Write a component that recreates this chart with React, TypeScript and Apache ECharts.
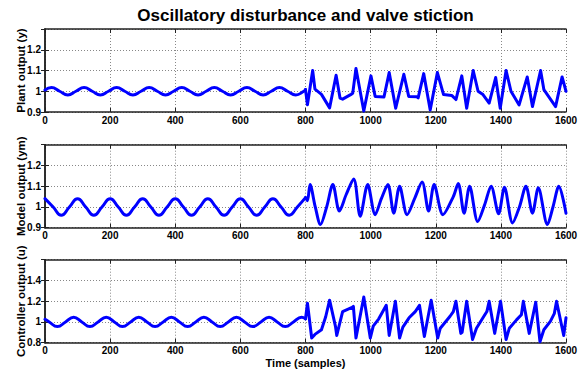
import React, { useEffect, useRef } from "react";
import * as echarts from "echarts";

const titleText = "Oscillatory disturbance and valve stiction";
const panelNames = ["Plant output (y)", "Model output (ym)", "Controller output (u)"];
const xAxisName = "Time (samples)";
const xRange = [0, 1600];
const xStep = 200;
const yRanges = [
  [0.9, 1.3, 0.1],
  [0.9, 1.3, 0.1],
  [0.8, 1.6, 0.2],
];

// Plant output (y)
const plantCalm: [number, number][] = [
  [0, 1.006], [20, 1.018], [45, 1.0], [70, 0.982], [95, 1.0], [120, 1.018], [145, 1.0], [170, 0.982],
  [195, 1.0], [220, 1.018], [245, 1.0], [270, 0.982], [295, 1.0], [320, 1.018], [345, 1.0], [370, 0.982],
  [395, 1.0], [420, 1.018], [445, 1.0], [470, 0.982], [495, 1.0], [520, 1.018], [545, 1.0], [570, 0.982],
  [595, 1.0], [620, 1.018], [645, 1.0], [670, 0.982], [695, 1.0], [720, 1.018], [745, 1.0], [770, 0.982],
  [795, 1.0], [800, 1.008],
];
const plantStiction: [number, number][] = [
  [800, 1.008], [806, 0.935], [822, 1.1], [829, 1.01], [849, 0.985], [874, 0.92], [894, 1.077],
  [906, 0.967], [914, 0.962], [940, 0.985], [945, 0.99], [955, 1.11], [979, 0.905], [1001, 1.074],
  [1014, 0.975], [1041, 0.972], [1057, 1.09], [1077, 0.918], [1102, 1.082], [1117, 0.975],
  [1142, 0.973], [1146, 0.968], [1163, 1.085], [1183, 0.91], [1205, 1.09], [1224, 0.984],
  [1249, 0.98], [1262, 0.96], [1280, 1.074], [1295, 0.918], [1315, 1.1], [1330, 1.0], [1345, 0.984],
  [1364, 0.943], [1384, 1.066], [1398, 0.918], [1416, 1.1], [1431, 1.0], [1456, 0.934],
  [1481, 1.069], [1497, 0.926], [1522, 1.1], [1532, 1.008], [1568, 0.926], [1588, 1.069], [1600, 1.0],
];

// Model output (ym)
const modelCalm: [number, number][] = [
  [0, 1.04], [25, 1.0], [50, 0.96], [75, 1.0], [100, 1.04], [125, 1.0], [150, 0.96], [175, 1.0],
  [200, 1.04], [225, 1.0], [250, 0.96], [275, 1.0], [300, 1.04], [325, 1.0], [350, 0.96], [375, 1.0],
  [400, 1.04], [425, 1.0], [450, 0.96], [475, 1.0], [500, 1.04], [525, 1.0], [550, 0.96], [575, 1.0],
  [600, 1.04], [625, 1.0], [650, 0.96], [675, 1.0], [700, 1.04], [725, 1.0], [750, 0.96], [775, 1.0],
  [800, 1.045],
];
const modelStiction: [number, number][] = [
  [800, 1.045], [806, 1.03], [814, 1.108], [830, 1.0], [846, 0.915], [865, 1.0], [884, 1.108],
  [904, 0.98], [925, 1.06], [948, 1.135], [968, 0.955], [991, 1.108], [1014, 0.963], [1033, 1.04],
  [1053, 1.108], [1071, 0.97], [1089, 1.1], [1112, 0.963], [1135, 1.04], [1158, 1.12], [1178, 0.98],
  [1195, 1.108], [1222, 0.963], [1254, 1.05], [1269, 1.113], [1287, 0.97], [1304, 1.1], [1329, 0.93],
  [1350, 1.01], [1370, 1.1], [1393, 0.967], [1411, 1.095], [1436, 0.923], [1457, 1.0], [1477, 1.1],
  [1497, 0.97], [1515, 1.092], [1543, 0.915], [1560, 1.0], [1578, 1.1], [1600, 0.97],
];

// Controller output (u)
const controllerCalm: [number, number][] = [
  [0, 1.025], [13, 1.0], [38, 0.955], [63, 1.0], [88, 1.045], [113, 1.0], [138, 0.955], [163, 1.0],
  [188, 1.045], [213, 1.0], [238, 0.955], [263, 1.0], [288, 1.045], [313, 1.0], [338, 0.955], [363, 1.0],
  [388, 1.045], [413, 1.0], [438, 0.955], [463, 1.0], [488, 1.045], [513, 1.0], [538, 0.955], [563, 1.0],
  [588, 1.045], [613, 1.0], [638, 0.955], [663, 1.0], [688, 1.045], [713, 1.0], [738, 0.955], [763, 1.0],
  [788, 1.045], [800, 1.03],
];
const controllerStiction: [number, number][] = [
  [800, 1.03], [806, 1.18], [819, 0.845], [829, 0.88], [849, 0.925], [862, 1.05], [874, 1.21],
  [892, 0.958], [896, 0.87], [914, 1.1], [943, 1.14], [947, 1.15], [955, 0.845], [979, 1.24],
  [999, 0.845], [1008, 0.96], [1025, 1.03], [1048, 1.16], [1057, 0.87], [1076, 1.2], [1089, 0.845],
  [1099, 0.95], [1118, 1.04], [1137, 1.1], [1150, 1.16], [1165, 0.86], [1186, 1.21], [1206, 0.845],
  [1214, 0.94], [1244, 1.055], [1254, 1.1], [1262, 1.2], [1277, 0.89], [1281, 0.9], [1295, 1.2],
  [1313, 0.83], [1325, 0.94], [1345, 1.04], [1357, 1.1], [1364, 1.2], [1381, 0.89], [1399, 1.2],
  [1416, 0.83], [1426, 0.94], [1448, 1.02], [1463, 1.07], [1469, 1.2], [1487, 0.89], [1507, 1.19],
  [1520, 0.81], [1532, 0.925], [1552, 1.006], [1564, 1.08], [1571, 1.2], [1593, 0.87], [1600, 1.04],
];

const FONT = "'Liberation Sans', Arial, Helvetica, sans-serif";
const BLUE = "#0000ff";
const AXIS_COLOR = "#222";

export default function App() {
  const ref = useRef<HTMLDivElement>(null);
  useEffect(() => {
    if (!ref.current) return;
    const chart = echarts.init(ref.current, undefined, { renderer: "svg" });
    const gridTops = [29, 144.7, 259.7];
    const grid = gridTops.map((t) => ({ left: 45, width: 521, top: t, height: 83 }));
    const xAxis: any[] = [];
    const yAxis: any[] = [];
    gridTops.forEach((_, i) => {
      xAxis.push({
        type: "value",
        gridIndex: i,
        min: xRange[0],
        max: xRange[1],
        interval: xStep,
        position: "bottom",
        name: i === 2 ? xAxisName : "",
        nameLocation: "middle",
        nameGap: 15,
        nameMoveOverlap: false,
        nameTextStyle: { fontFamily: FONT, fontWeight: "bold", fontSize: 11, color: "#000", verticalAlign: "top" },
        axisLine: { show: true, lineStyle: { color: AXIS_COLOR, width: 1.5 } },
        axisTick: { show: true, inside: true, length: 4, lineStyle: { color: AXIS_COLOR } },
        axisLabel: {
          show: true,
          margin: 3,
          formatter: (v: number) => String(v),
          fontFamily: FONT,
          fontWeight: "bold",
          fontSize: 10,
          color: "#000",
        },
        splitLine: { show: true, lineStyle: { color: "#888", type: [1, 2], width: 1 } },
      });
      xAxis.push({
        type: "value",
        gridIndex: i,
        min: xRange[0],
        max: xRange[1],
        interval: xStep,
        position: "top",
        axisLine: { show: true, lineStyle: { color: AXIS_COLOR, width: 1.5 } },
        axisTick: { show: true, inside: true, length: 4, lineStyle: { color: AXIS_COLOR } },
        axisLabel: { show: false },
        splitLine: { show: false },
      });
      const [mn, mx, step] = yRanges[i];
      yAxis.push({
        type: "value",
        gridIndex: i,
        min: mn,
        max: mx,
        interval: step,
        position: "left",
        name: panelNames[i],
        nameLocation: "middle",
        nameGap: 18,
        nameMoveOverlap: false,
        nameTextStyle: { fontFamily: FONT, fontWeight: "bold", fontSize: 11.5, color: "#000" },
        axisLine: { show: true, lineStyle: { color: AXIS_COLOR, width: 1.5 } },
        axisTick: { show: true, inside: true, length: 4, lineStyle: { color: AXIS_COLOR } },
        axisLabel: { show: true, margin: 4, showMaxLabel: false, fontFamily: FONT, fontWeight: "bold", fontSize: 10, color: "#000" },
        splitLine: { show: true, lineStyle: { color: "#888", type: [1, 2], width: 1 } },
      });
      yAxis.push({
        type: "value",
        gridIndex: i,
        min: mn,
        max: mx,
        interval: step,
        position: "right",
        axisLine: { show: true, lineStyle: { color: AXIS_COLOR, width: 1.5 } },
        axisTick: { show: true, inside: true, length: 4, lineStyle: { color: AXIS_COLOR } },
        axisLabel: { show: false },
        splitLine: { show: false },
      });
    });
    const mk = (data: [number, number][], idx: number, smooth: number | boolean) => ({
      type: "line",
      xAxisIndex: idx * 2,
      yAxisIndex: idx * 2,
      data,
      smooth,
      symbol: "none",
      showSymbol: false,
      lineStyle: { color: BLUE, width: 3, cap: "round", join: "round" },
      itemStyle: { color: BLUE },
    });
    chart.setOption({
      animation: false,
      backgroundColor: "#fff",
      textStyle: { fontFamily: FONT },
      graphic: [
        {
          type: "text",
          x: 305.5,
          y: 15,
          style: {
            text: titleText,
            fontFamily: FONT,
            fontWeight: "bold",
            fontSize: 17,
            fill: "#000",
            textAlign: "center",
            textVerticalAlign: "middle",
          },
        },
      ],
      grid,
      xAxis,
      yAxis,
      series: [
        mk(plantCalm, 0, 0.5),
        mk(plantStiction, 0, false),
        mk(modelCalm, 1, 0.5),
        mk(modelStiction, 1, 0.3),
        mk(controllerCalm, 2, 0.5),
        mk(controllerStiction, 2, false),
      ],
    });
    return () => chart.dispose();
  }, []);
  return (
    <div
      ref={ref}
      style={{ position: "fixed", left: 0, top: 0, width: 585, height: 374, background: "#fff" }}
    />
  );
}
